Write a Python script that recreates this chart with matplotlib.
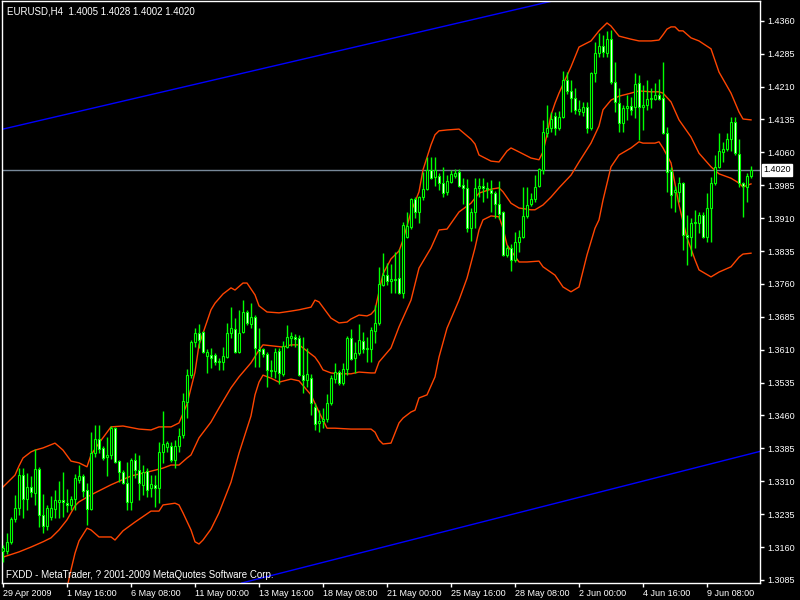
import matplotlib
matplotlib.use("Agg")
import matplotlib.pyplot as plt
import matplotlib.transforms as mtransforms

# EURUSD H4, 29 Apr 2009 - 10 Jun 2009
symbol_info = "EURUSD,H4  1.4005 1.4028 1.4002 1.4020"
footer = "FXDD - MetaTrader, ? 2001-2009 MetaQuotes Software Corp."
last_price = 1.4020

opens = [
    1.3151, 1.3151, 1.3172, 1.3224, 1.3249, 1.3324, 1.3270, 1.3297, 1.3283, 1.3338,
    1.3233, 1.3208, 1.3229, 1.3247, 1.3263, 1.3267, 1.3260, 1.3256, 1.3270, 1.3313,
    1.3322, 1.3290, 1.3247, 1.3374, 1.3406, 1.3386, 1.3365, 1.3370, 1.3431, 1.3356,
    1.3331, 1.3306, 1.3263, 1.3359, 1.3336, 1.3302, 1.3333, 1.3295, 1.3302, 1.3295,
    1.3377, 1.3388, 1.3390, 1.3359, 1.3390, 1.3416, 1.3491, 1.3552, 1.3628, 1.3648,
    1.3650, 1.3596, 1.3598, 1.3598, 1.3582, 1.3582, 1.3593, 1.3648, 1.3657, 1.3605,
    1.3650, 1.3696, 1.3669, 1.3685, 1.3612, 1.3612, 1.3600, 1.3564, 1.3561, 1.3607,
    1.3555, 1.3616, 1.3637, 1.3639, 1.3637, 1.3552, 1.3541, 1.3545, 1.3479, 1.3443,
    1.3447, 1.3452, 1.3488, 1.3543, 1.3559, 1.3534, 1.3566, 1.3637, 1.3591, 1.3602,
    1.3630, 1.3612, 1.3612, 1.3653, 1.3671, 1.3758, 1.3780, 1.3767, 1.3771, 1.3773,
    1.3739, 1.3867, 1.3890, 1.3954, 1.3924, 1.3958, 1.3976, 1.4020, 1.4004, 1.4006,
    1.3990, 1.3970, 1.3992, 1.4006, 1.4015, 1.3986, 1.3979, 1.3887, 1.3924, 1.3979,
    1.3983, 1.3979, 1.3974, 1.3967, 1.3942, 1.3924, 1.3826, 1.3842, 1.3815, 1.3856,
    1.3867, 1.3915, 1.3942, 1.3954, 1.3983, 1.4020, 1.4104, 1.4115, 1.4143, 1.4115,
    1.4141, 1.4225, 1.4200, 1.4184, 1.4154, 1.4152, 1.4163, 1.4115, 1.4241, 1.4286,
    1.4302, 1.4286, 1.4318, 1.4220, 1.4172, 1.4127, 1.4161, 1.4166, 1.4163, 1.4218,
    1.4163, 1.4168, 1.4182, 1.4182, 1.4191, 1.4184, 1.4104, 1.4017, 1.3970, 1.3970,
    1.3990, 1.3872, 1.3867, 1.3899, 1.3899, 1.3917, 1.3867, 1.3933, 1.3990, 1.4027,
    1.4061, 1.4068, 1.4090, 1.4129, 1.4056, 1.3990, 1.3981, 1.4005,
]
highs = [
    1.3165, 1.3192, 1.3229, 1.3279, 1.3340, 1.3340, 1.3329, 1.3322, 1.3384, 1.3343,
    1.3281, 1.3256, 1.3276, 1.3290, 1.3311, 1.3331, 1.3292, 1.3276, 1.3327, 1.3347,
    1.3327, 1.3306, 1.3422, 1.3438, 1.3438, 1.3390, 1.3411, 1.3436, 1.3434, 1.3359,
    1.3336, 1.3354, 1.3363, 1.3374, 1.3370, 1.3347, 1.3340, 1.3324, 1.3324, 1.3400,
    1.3470, 1.3402, 1.3400, 1.3404, 1.3431, 1.3511, 1.3566, 1.3632, 1.3659, 1.3669,
    1.3653, 1.3612, 1.3614, 1.3602, 1.3591, 1.3616, 1.3671, 1.3707, 1.3682, 1.3701,
    1.3723, 1.3701, 1.3716, 1.3689, 1.3659, 1.3614, 1.3605, 1.3587, 1.3614, 1.3614,
    1.3630, 1.3666, 1.3650, 1.3646, 1.3644, 1.3639, 1.3614, 1.3555, 1.3488, 1.3472,
    1.3477, 1.3509, 1.3552, 1.3580, 1.3564, 1.3580, 1.3641, 1.3657, 1.3628, 1.3669,
    1.3650, 1.3639, 1.3662, 1.3712, 1.3799, 1.3830, 1.3808, 1.3805, 1.3833, 1.3840,
    1.3901, 1.3924, 1.3956, 1.3958, 1.3960, 1.4015, 1.4049, 1.4049, 1.4049, 1.4013,
    1.4027, 1.4008, 1.4020, 1.4022, 1.4022, 1.4001, 1.3999, 1.3933, 1.4001, 1.4001,
    1.4001, 1.3992, 1.3997, 1.3972, 1.3995, 1.3926, 1.3849, 1.3851, 1.3878, 1.3883,
    1.3981, 1.3981, 1.3967, 1.4008, 1.4024, 1.4134, 1.4168, 1.4152, 1.4152, 1.4154,
    1.4245, 1.4243, 1.4225, 1.4207, 1.4179, 1.4175, 1.4175, 1.4243, 1.4312, 1.4332,
    1.4328, 1.4337, 1.4339, 1.4266, 1.4207, 1.4168, 1.4191, 1.4186, 1.4241, 1.4236,
    1.4214, 1.4225, 1.4207, 1.4218, 1.4227, 1.4266, 1.4118, 1.4027, 1.3983, 1.4004,
    1.3992, 1.3917, 1.3910, 1.3929, 1.3924, 1.3924, 1.3967, 1.4004, 1.4054, 1.4104,
    1.4084, 1.4104, 1.4141, 1.4141, 1.4090, 1.3992, 1.4013, 1.4028,
]
lows = [
    1.3126, 1.3144, 1.3167, 1.3217, 1.3233, 1.3226, 1.3245, 1.3274, 1.3256, 1.3206,
    1.3192, 1.3199, 1.3222, 1.3226, 1.3226, 1.3229, 1.3240, 1.3245, 1.3245, 1.3306,
    1.3274, 1.3210, 1.3245, 1.3365, 1.3374, 1.3359, 1.3322, 1.3361, 1.3352, 1.3308,
    1.3304, 1.3245, 1.3245, 1.3317, 1.3267, 1.3279, 1.3274, 1.3274, 1.3251, 1.3260,
    1.3352, 1.3377, 1.3354, 1.3340, 1.3377, 1.3409, 1.3454, 1.3545, 1.3616, 1.3614,
    1.3602, 1.3557, 1.3568, 1.3575, 1.3564, 1.3564, 1.3591, 1.3637, 1.3602, 1.3602,
    1.3648, 1.3666, 1.3659, 1.3571, 1.3571, 1.3593, 1.3525, 1.3548, 1.3545, 1.3532,
    1.3550, 1.3614, 1.3618, 1.3616, 1.3550, 1.3511, 1.3525, 1.3461, 1.3427, 1.3422,
    1.3431, 1.3445, 1.3484, 1.3534, 1.3530, 1.3530, 1.3552, 1.3587, 1.3557, 1.3598,
    1.3602, 1.3582, 1.3582, 1.3625, 1.3666, 1.3755, 1.3758, 1.3739, 1.3739, 1.3737,
    1.3728, 1.3865, 1.3885, 1.3910, 1.3899, 1.3951, 1.3974, 1.3999, 1.3983, 1.3974,
    1.3958, 1.3963, 1.3990, 1.4001, 1.3981, 1.3942, 1.3878, 1.3858, 1.3887, 1.3958,
    1.3947, 1.3956, 1.3924, 1.3910, 1.3908, 1.3824, 1.3821, 1.3789, 1.3810, 1.3833,
    1.3865, 1.3910, 1.3938, 1.3947, 1.3981, 1.4011, 1.4095, 1.4106, 1.4100, 1.4111,
    1.4138, 1.4193, 1.4152, 1.4147, 1.4145, 1.4143, 1.4104, 1.4111, 1.4220, 1.4277,
    1.4277, 1.4277, 1.4216, 1.4152, 1.4106, 1.4106, 1.4134, 1.4145, 1.4138, 1.4088,
    1.4111, 1.4157, 1.4161, 1.4179, 1.4179, 1.4102, 1.3970, 1.3933, 1.3924, 1.3947,
    1.3837, 1.3803, 1.3824, 1.3842, 1.3876, 1.3865, 1.3856, 1.3856, 1.3986, 1.4024,
    1.4038, 1.4063, 1.4063, 1.4054, 1.3981, 1.3913, 1.3947, 1.4002,
]
closes = [
    1.3158, 1.3172, 1.3224, 1.3249, 1.3324, 1.3270, 1.3297, 1.3286, 1.3338, 1.3233,
    1.3208, 1.3249, 1.3249, 1.3267, 1.3267, 1.3263, 1.3256, 1.3270, 1.3317, 1.3322,
    1.3288, 1.3247, 1.3374, 1.3406, 1.3384, 1.3363, 1.3370, 1.3431, 1.3354, 1.3331,
    1.3306, 1.3263, 1.3359, 1.3336, 1.3306, 1.3331, 1.3290, 1.3304, 1.3295, 1.3377,
    1.3395, 1.3397, 1.3359, 1.3390, 1.3413, 1.3493, 1.3552, 1.3628, 1.3648, 1.3632,
    1.3605, 1.3605, 1.3591, 1.3582, 1.3584, 1.3596, 1.3648, 1.3659, 1.3605, 1.3648,
    1.3696, 1.3671, 1.3685, 1.3614, 1.3607, 1.3600, 1.3564, 1.3561, 1.3605, 1.3557,
    1.3618, 1.3639, 1.3641, 1.3634, 1.3552, 1.3541, 1.3555, 1.3488, 1.3441, 1.3447,
    1.3452, 1.3488, 1.3545, 1.3559, 1.3534, 1.3566, 1.3637, 1.3589, 1.3602, 1.3632,
    1.3612, 1.3614, 1.3655, 1.3671, 1.3760, 1.3780, 1.3767, 1.3771, 1.3769, 1.3739,
    1.3894, 1.3892, 1.3954, 1.3924, 1.3958, 1.3976, 1.4020, 1.4001, 1.4020, 1.3990,
    1.3967, 1.3995, 1.4011, 1.4013, 1.3983, 1.3979, 1.3887, 1.3924, 1.3979, 1.3983,
    1.3979, 1.3976, 1.3967, 1.3942, 1.3919, 1.3826, 1.3842, 1.3815, 1.3856, 1.3867,
    1.3915, 1.3940, 1.3954, 1.3981, 1.4022, 1.4106, 1.4115, 1.4136, 1.4115, 1.4141,
    1.4225, 1.4200, 1.4184, 1.4157, 1.4159, 1.4163, 1.4115, 1.4241, 1.4286, 1.4302,
    1.4289, 1.4318, 1.4220, 1.4175, 1.4127, 1.4161, 1.4166, 1.4157, 1.4216, 1.4163,
    1.4168, 1.4182, 1.4184, 1.4191, 1.4182, 1.4104, 1.4015, 1.3963, 1.3974, 1.3990,
    1.3872, 1.3867, 1.3899, 1.3901, 1.3917, 1.3867, 1.3933, 1.3990, 1.4027, 1.4063,
    1.4068, 1.4090, 1.4129, 1.4058, 1.3990, 1.3983, 1.4006, 1.4020,
]

# Bollinger bands as drawn on the chart (bar index, price)
upper_idx = [0, 3, 4, 5, 7, 8, 10, 13, 15, 17, 19, 21, 22, 24, 27, 30, 34, 37, 39, 42,
             44, 46, 48, 49, 52, 53, 55, 57, 58, 60, 61, 63, 64, 66, 69, 72, 74, 77, 78, 79,
             82, 84, 86, 87, 89, 91, 92, 93, 94, 95, 97, 99, 100, 102, 104, 105, 107, 108, 109, 111,
             114, 117, 118, 119, 122, 124, 126, 127, 129, 132, 134, 135, 136, 137, 138, 139, 142, 144, 147, 149,
             151, 152, 154, 157, 159, 162, 164, 165, 166, 167, 168, 169, 170, 172, 174, 177, 179, 182, 184, 185,
             187]
upper_band = [1.3297, 1.3324, 1.3345, 1.3363, 1.3377, 1.3381, 1.3386, 1.3397, 1.3381, 1.3356,
              1.3352, 1.3343, 1.3370, 1.3397, 1.3434, 1.3436, 1.3429, 1.3427, 1.3434, 1.3434,
              1.3443, 1.3486, 1.3559, 1.3621, 1.3701, 1.3716, 1.3737, 1.3751, 1.3746, 1.3762,
              1.3762, 1.3735, 1.3710, 1.3696, 1.3694, 1.3698, 1.3701, 1.3707, 1.3723, 1.3719,
              1.3682, 1.3671, 1.3673, 1.3680, 1.3689, 1.3687, 1.3691, 1.3701, 1.3742, 1.3783,
              1.3817, 1.3835, 1.3860, 1.3924, 1.3970, 1.4020, 1.4077, 1.4100, 1.4109, 1.4111,
              1.4113, 1.4090, 1.4079, 1.4054, 1.4040, 1.4038, 1.4063, 1.4070, 1.4061, 1.4047,
              1.4043, 1.4061, 1.4100, 1.4145, 1.4172, 1.4195, 1.4255, 1.4300, 1.4314, 1.4337,
              1.4355, 1.4348, 1.4325, 1.4318, 1.4314, 1.4314, 1.4316, 1.4328, 1.4341, 1.4346,
              1.4346, 1.4337, 1.4337, 1.4321, 1.4314, 1.4296, 1.4243, 1.4195, 1.4152, 1.4136,
              1.4134]
middle_idx = [0, 4, 7, 10, 12, 14, 16, 18, 19, 22, 27, 32, 37, 40, 42, 44, 46, 47, 49, 52,
              54, 57, 59, 62, 64, 65, 68, 70, 72, 74, 75, 78, 79, 80, 82, 84, 87, 89, 92, 93,
              94, 97, 99, 102, 104, 107, 109, 111, 114, 117, 119, 122, 124, 125, 127, 129, 132, 133, 135, 137,
              139, 142, 144, 147, 149, 150, 152, 154, 157, 159, 162, 164, 165, 167, 169, 172, 174, 177, 179, 182,
              184, 185, 187]
middle_band = [1.3137, 1.3149, 1.3160, 1.3172, 1.3181, 1.3199, 1.3222, 1.3254, 1.3263, 1.3279,
               1.3302, 1.3322, 1.3333, 1.3340, 1.3347, 1.3347, 1.3363, 1.3370, 1.3409, 1.3445,
               1.3477, 1.3523, 1.3548, 1.3580, 1.3609, 1.3621, 1.3618, 1.3616, 1.3621, 1.3621,
               1.3614, 1.3593, 1.3580, 1.3564, 1.3557, 1.3555, 1.3555, 1.3559, 1.3557, 1.3557,
               1.3582, 1.3614, 1.3662, 1.3723, 1.3796, 1.3842, 1.3883, 1.3885, 1.3924, 1.3944,
               1.3967, 1.3976, 1.3979, 1.3970, 1.3944, 1.3933, 1.3929, 1.3929, 1.3940, 1.3958,
               1.3979, 1.4008, 1.4038, 1.4081, 1.4120, 1.4157, 1.4179, 1.4188, 1.4195, 1.4200,
               1.4198, 1.4198, 1.4195, 1.4175, 1.4134, 1.4095, 1.4058, 1.4027, 1.4011, 1.4001,
               1.3990, 1.3981, 1.3988]
lower_idx = [0, 4, 8, 10, 13, 15, 16, 17, 18, 19, 21, 22, 24, 27, 28, 30, 33, 37, 39, 40,
             43, 44, 45, 47, 48, 49, 50, 52, 54, 57, 59, 62, 63, 64, 65, 67, 69, 72, 74, 77,
             79, 81, 83, 87, 92, 93, 94, 95, 97, 98, 99, 100, 102, 103, 104, 106, 108, 109, 111, 114,
             116, 118, 119, 120, 122, 124, 125, 126, 129, 131, 134, 135, 138, 140, 142, 144, 146, 148, 149, 150,
             152, 154, 157, 159, 160, 163, 164, 165, 167, 169, 171, 173, 174, 177, 179, 182, 184, 185, 187]
lower_band = [1.2978, 1.2953, 1.2944, 1.2957, 1.2978, 1.3028, 1.3067, 1.3108, 1.3146, 1.3174,
              1.3203, 1.3199, 1.3183, 1.3183, 1.3176, 1.3197, 1.3217, 1.3242, 1.3242, 1.3256,
              1.3260, 1.3256, 1.3238, 1.3199, 1.3172, 1.3167, 1.3176, 1.3201, 1.3238, 1.3308,
              1.3374, 1.3459, 1.3507, 1.3536, 1.3552, 1.3545, 1.3536, 1.3543, 1.3539, 1.3507,
              1.3468, 1.3431, 1.3431, 1.3429, 1.3429, 1.3422, 1.3404, 1.3395, 1.3397, 1.3420,
              1.3443, 1.3454, 1.3468, 1.3472, 1.3500, 1.3507, 1.3548, 1.3593, 1.3659, 1.3723,
              1.3773, 1.3842, 1.3883, 1.3906, 1.3915, 1.3913, 1.3887, 1.3849, 1.3810, 1.3810,
              1.3812, 1.3799, 1.3780, 1.3753, 1.3742, 1.3753, 1.3826, 1.3887, 1.3906, 1.3951,
              1.4027, 1.4054, 1.4070, 1.4084, 1.4081, 1.4081, 1.4084, 1.4070, 1.4036, 1.3940,
              1.3865, 1.3815, 1.3792, 1.3776, 1.3787, 1.3799, 1.3821, 1.3828, 1.3830]

# channel trendlines: two anchors each (bar index, price)
channel_top = [(0, 1.4113), (135, 1.4400)]
channel_bottom = [(64, 1.3088), (184, 1.3366)]

date_ticks = [0, 16, 32, 48, 64, 80, 96, 112, 128, 144, 160, 176]
date_labels = ["29 Apr 2009", "1 May 16:00", "6 May 08:00", "11 May 00:00",
               "13 May 16:00", "18 May 08:00", "21 May 00:00", "25 May 16:00",
               "28 May 08:00", "2 Jun 00:00", "4 Jun 16:00", "9 Jun 08:00"]
price_ticks = [1.3085, 1.3160, 1.3235, 1.3310, 1.3385, 1.3460, 1.3535, 1.3610, 1.3685,
               1.3760, 1.3835, 1.3910, 1.3985, 1.4060, 1.4135, 1.4210, 1.4285, 1.4360]

LIME = "#00ff00"
BAND = "#ff4500"
FS = 6.5

plt.rcParams["font.family"] = ["Liberation Sans", "DejaVu Sans"]

fig = plt.figure(figsize=(8, 6), dpi=100, facecolor="black")
ax = fig.add_axes([0.0025, 0.0283, 0.9475, 0.97])
ax.set_facecolor("black")

idx = list(range(len(opens)))

# channel + bid line
ax.axline(channel_top[0], channel_top[1], color="#0000ff", lw=1, zorder=1)
ax.axline(channel_bottom[0], channel_bottom[1], color="#0000ff", lw=1, zorder=1)
ax.axhline(last_price, color="#778899", lw=1, zorder=1)

# bands
ax.plot(upper_idx, upper_band, color=BAND, lw=1, zorder=2)
ax.plot(middle_idx, middle_band, color=BAND, lw=1, zorder=2)
ax.plot(lower_idx, lower_band, color=BAND, lw=1, zorder=2)

# candles
ax.vlines(idx, lows, highs, color=LIME, lw=1, zorder=3)
bottoms = [min(o, c) for o, c in zip(opens, closes)]
heights = [abs(c - o) for o, c in zip(opens, closes)]
fills = ["black" if c >= o else "white" for o, c in zip(opens, closes)]
ax.bar(idx, heights, bottom=bottoms, width=0.5, color=fills,
       edgecolor=LIME, linewidth=0.8, zorder=4)

ax.set_xlim(-0.25, 189.25)
ax.set_ylim(1.3078, 1.4405)

for s in ax.spines.values():
    s.set_color("white")
    s.set_linewidth(1)

ax.yaxis.tick_right()
ax.set_yticks(price_ticks)
ax.set_yticklabels(["%.4f" % p for p in price_ticks])
ax.set_xticks(date_ticks)
ax.set_xticklabels(date_labels, ha="left")
ax.tick_params(colors="white", labelsize=FS, length=3, width=1, pad=2)
ax.tick_params(axis="x", pad=1)

# current price marker on the scale
trans = mtransforms.blended_transform_factory(ax.transAxes, ax.transData)
ax.text(1.004, last_price, "%.4f" % last_price, transform=trans, ha="left", va="center",
        color="black", fontsize=FS,
        bbox=dict(boxstyle="square,pad=0.15", facecolor="white", edgecolor="white"),
        zorder=10, clip_on=False)

ax.text(0.0066, 0.99, symbol_info, transform=ax.transAxes, color="white",
        fontsize=FS + 0.5, ha="left", va="top")
ax.text(0.0055, 0.014, footer, transform=ax.transAxes, color="white",
        fontsize=FS + 0.5, ha="left", va="center")

fig.savefig("out.png", dpi=100, facecolor="black")
